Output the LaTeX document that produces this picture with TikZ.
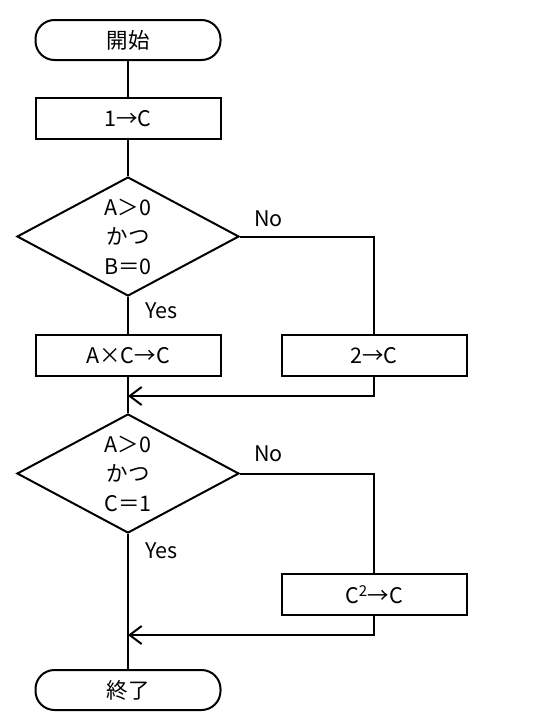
\documentclass[tikz,border=0pt]{standalone}
\usepackage{fontspec}
\setmainfont{Noto Sans CJK JP}
\usetikzlibrary{positioning,shapes.geometric,arrows.meta}

\begin{document}
\begin{tikzpicture}[x=1pt,y=1pt,line width=2pt,node distance=36pt,
		every node/.style={font=\fontsize{21.5}{29.5}\selectfont},
		terminal/.style={draw,rounded corners=19pt,minimum width=185pt,minimum height=40pt},
		process/.style={draw,minimum width=185pt,minimum height=41pt},
		decision/.style={draw,diamond,aspect=1.9,inner sep=0pt,minimum width=222pt,minimum height=119pt,align=center},
		lbl/.style={inner sep=0pt},
		merge/.style={-{Straight Barb[length=12pt,width=18pt]}}]
			\useasboundingbox (0,0) rectangle (552,-728);

			\node[terminal] (Start) at (128,-40) {開始};
			\node[process,below=of Start]        (InitC)  {1→C};
			\node[decision,below=of InitC]       (Check1) {A＞0\\かつ\\B＝0};
			\node[process,below=37pt of Check1]  (Mult)   {A×C→C};
			\node[process,right=59pt of Mult]    (SetTwo) {2→C};
			\node[decision,below=36pt of Mult]   (Check2) {A＞0\\かつ\\C＝1};
			\node[process,below=196pt of SetTwo] (Square) {C\textsuperscript{2}→C};
			\node[terminal,below=135pt of Check2] (End)   {終了};

			\coordinate (Join1) at (128,-396);
			\coordinate (Join2) at (128,-635);

			\draw (Start)  -- (InitC);
			\draw (InitC)  -- (Check1);
			\draw (Check1.south) -- node[lbl,pos=0,anchor=north west,xshift=16pt,yshift=-5pt] {Yes} (Mult.north);
			\draw (Check1.east)  -| node[lbl,pos=0,anchor=south west,xshift=13pt,yshift=9pt] {No} (SetTwo.north);
			\draw (Mult)   -- (Check2);
			\draw[merge] (SetTwo.south) |- (Join1);
			\draw (Check2.south) -- node[lbl,pos=0,anchor=north west,xshift=16pt,yshift=-8pt] {Yes} (End.north);
			\draw (Check2.east)  -| node[lbl,pos=0,anchor=south west,xshift=13pt,yshift=11pt] {No} (Square.north);
			\draw[merge] (Square.south) |- (Join2);
\end{tikzpicture}
\end{document}
